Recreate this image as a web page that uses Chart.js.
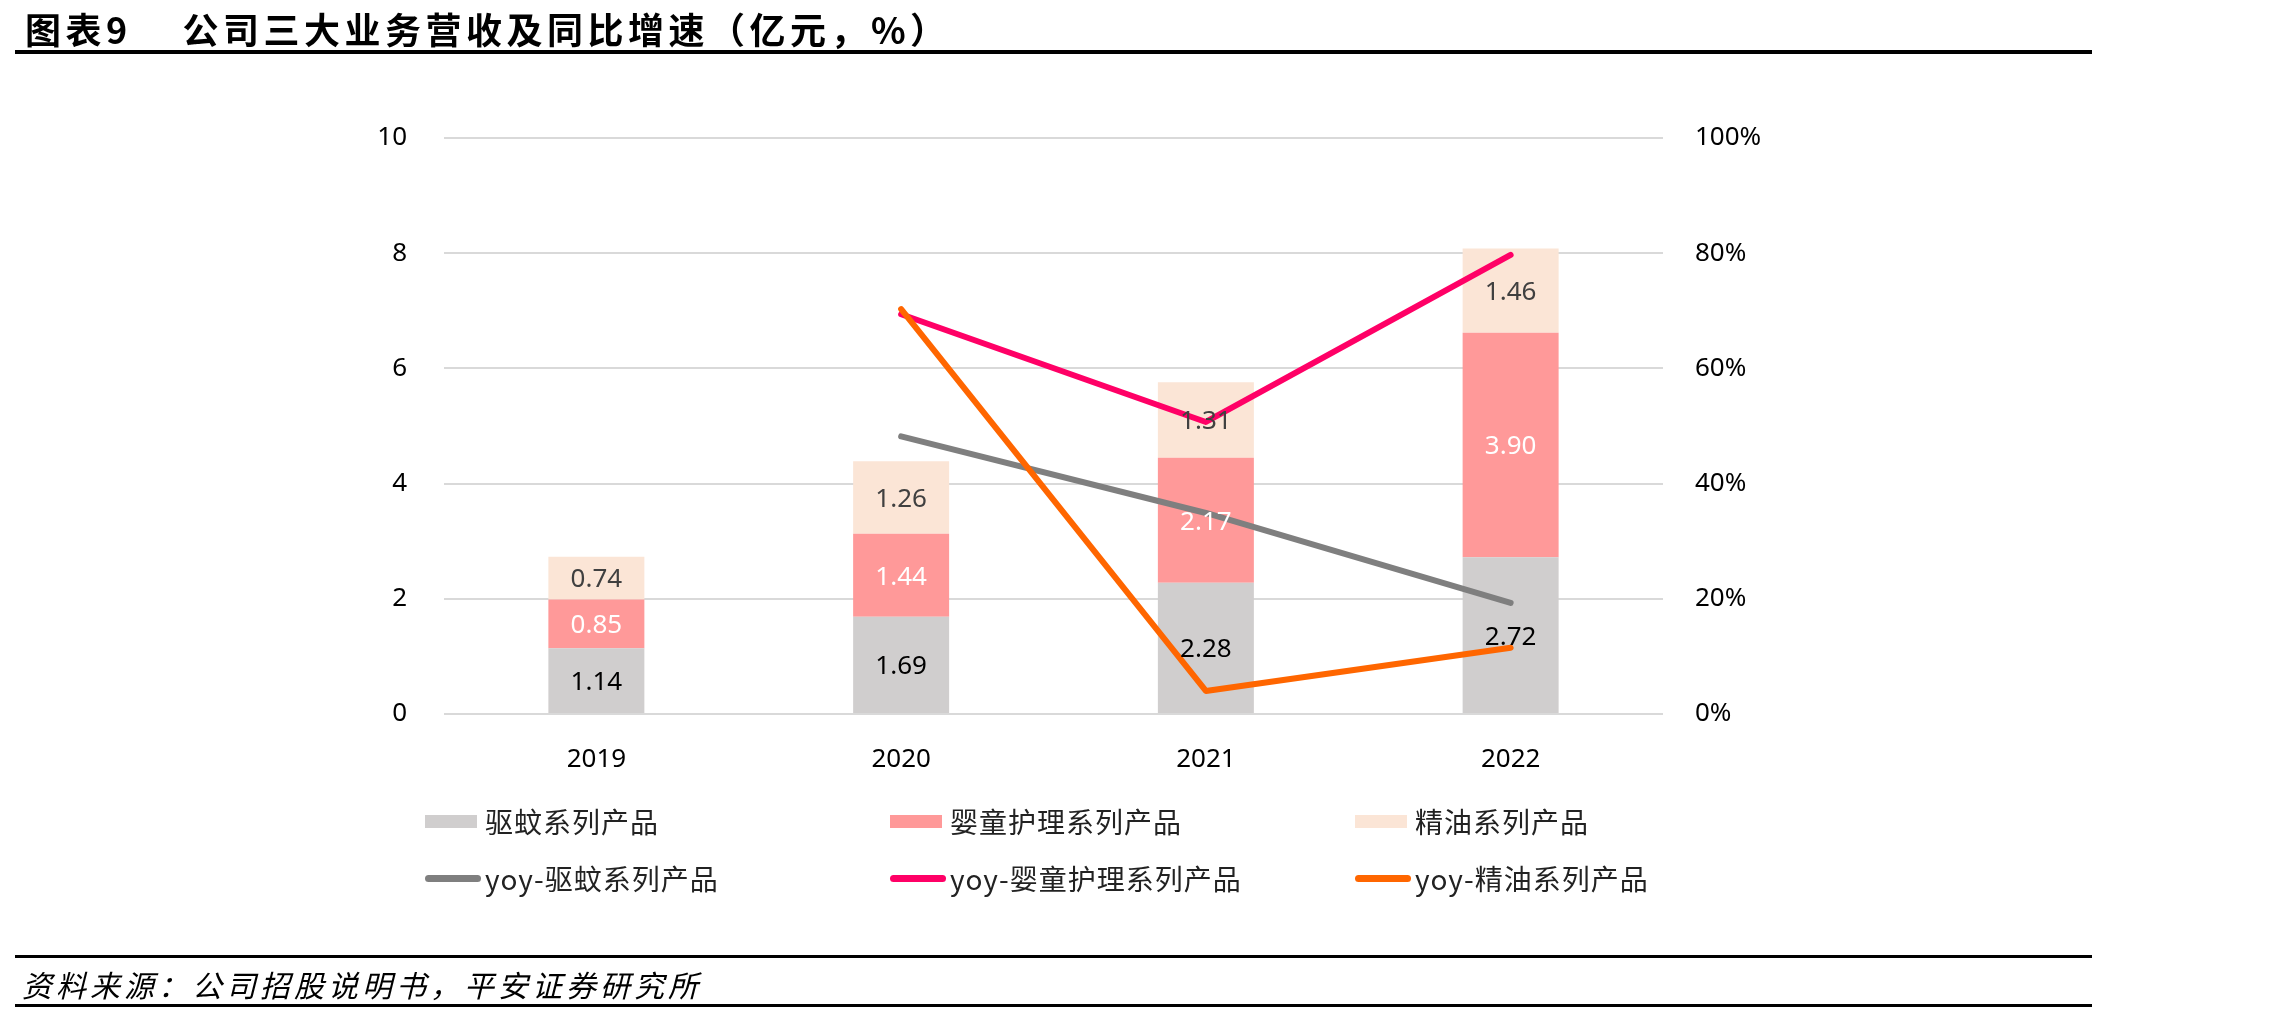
<html lang="zh">
<head>
  <meta charset="UTF-8" />
  <title>公司三大业务营收及同比增速</title>
  <script src="https://cdn.jsdelivr.net/npm/chart.js"></script>
  <style>
    body {
      margin: 0;
      width: 2281px;
      height: 1015px;
      background: #ffffff;
      position: relative;
      overflow: hidden;
      font-family: "Noto Sans CJK SC", "Noto Sans", sans-serif;
    }
    .title {
      position: absolute;
      left: 25px;
      top: 2px;
      font-size: 36px;
      font-weight: bold;
      letter-spacing: 4.5px;
      color: #000;
      white-space: pre;
      z-index: 2;
    }
    .rule {
      position: absolute;
      left: 15px;
      width: 2077px;
      background: #000;
      z-index: 2;
    }
    .source {
      position: absolute;
      left: 22px;
      top: 962px;
      font-size: 30px;
      font-style: italic;
      letter-spacing: 4px;
      color: #000;
      z-index: 2;
    }
    .wrap {
      position: absolute;
      left: 0;
      top: 0;
      width: 2281px;
      height: 1015px;
    }
    .legend-item {
      position: absolute;
      height: 40px;
      display: flex;
      align-items: center;
      font-size: 28px;
      letter-spacing: 1px;
      color: #222;
      white-space: nowrap;
      z-index: 2;
    }
    .legend-item .box { width: 52px; height: 13px; margin-right: 8px; }
    .legend-item .line { width: 56px; height: 7px; border-radius: 4px; margin-right: 4px; }
  </style>
</head>
<body>

<div class="title">图表9    公司三大业务营收及同比增速（亿元，%）</div>
<div class="rule" style="top:50px;height:4px;"></div>

<div class="wrap"><canvas id="mainChart"></canvas></div>
<div id="legend"></div>

<div class="rule" style="top:955px;height:3px;"></div>
<div class="source">资料来源：公司招股说明书，平安证券研究所</div>
<div class="rule" style="top:1004px;height:3px;"></div>

<script>
  const years = ['2019', '2020', '2021', '2022'];

  // 营收（亿元）
  const quwen = [1.14, 1.69, 2.28, 2.72];
  const yingtong = [0.85, 1.44, 2.17, 3.90];
  const jingyou = [0.74, 1.26, 1.31, 1.46];

  // 同比增速（%）
  const yoyQuwen = [null, 48.2, 34.9, 19.3];
  const yoyYingtong = [null, 69.4, 50.7, 79.7];
  const yoyJingyou = [null, 70.3, 4.0, 11.5];

  const leftTicks = [0, 2, 4, 6, 8, 10];
  const rightTicks = [0, 20, 40, 60, 80, 100];

  const tickFont = { family: '"Noto Sans", sans-serif', size: 26 };

  const barLabels = {
    id: 'barLabels',
    afterDatasetsDraw(chart) {
      const ctx = chart.ctx;
      ctx.save();
      ctx.font = '26px "Noto Sans", sans-serif';
      ctx.textAlign = 'center';
      ctx.textBaseline = 'middle';
      chart.data.datasets.forEach((ds, i) => {
        if (ds.type !== 'bar') return;
        const meta = chart.getDatasetMeta(i);
        meta.data.forEach((el, j) => {
          const v = ds.data[j];
          if (v == null) return;
          const { x, y, base } = el.getProps(['x', 'y', 'base'], true);
          ctx.fillStyle = ds.labelColor;
          ctx.fillText(v.toFixed(2), x, (y + base) / 2 + 2);
        });
      });
      ctx.restore();
    }
  };

  const chart = new Chart(document.getElementById('mainChart'), {
    data: {
      labels: years,
      datasets: [
        { type: 'bar', label: '驱蚊系列产品', data: quwen, backgroundColor: '#D0CECE', labelColor: '#000000', yAxisID: 'y', order: 4, stack: 's' },
        { type: 'bar', label: '婴童护理系列产品', data: yingtong, backgroundColor: '#FF9999', labelColor: '#FFFFFF', yAxisID: 'y', order: 5, stack: 's' },
        { type: 'bar', label: '精油系列产品', data: jingyou, backgroundColor: '#FBE5D6', labelColor: '#404040', yAxisID: 'y', order: 6, stack: 's' },
        { type: 'line', label: 'yoy-驱蚊系列产品', data: yoyQuwen, borderColor: '#7F7F7F', backgroundColor: '#7F7F7F', yAxisID: 'y1', order: 3 },
        { type: 'line', label: 'yoy-婴童护理系列产品', data: yoyYingtong, borderColor: '#FF0066', backgroundColor: '#FF0066', yAxisID: 'y1', order: 2 },
        { type: 'line', label: 'yoy-精油系列产品', data: yoyJingyou, borderColor: '#FF6600', backgroundColor: '#FF6600', yAxisID: 'y1', order: 1 }
      ]
    },
    options: {
      responsive: true,
      maintainAspectRatio: false,
      animation: false,
      layout: { padding: { top: 138, bottom: 221, left: 0, right: 0 } },
      datasets: {
        bar: { categoryPercentage: 0.315, barPercentage: 1.0 },
        line: { borderWidth: 6, pointRadius: 0, borderCapStyle: 'round', borderJoinStyle: 'round', tension: 0, spanGaps: false }
      },
      plugins: {
        legend: { display: false },
        tooltip: { enabled: false }
      },
      scales: {
        x: {
          stacked: true,
          grid: { display: false },
          border: { display: false },
          ticks: { color: '#000', font: tickFont, padding: 22 },
          afterFit(scale) { scale.height = 80; }
        },
        y: {
          stacked: true,
          position: 'left',
          min: 0,
          max: 10,
          afterBuildTicks(scale) { scale.ticks = leftTicks.map(v => ({ value: v })); },
          grid: { color: '#D9D9D9', lineWidth: 2, drawTicks: false },
          border: { display: false },
          ticks: { color: '#000', font: tickFont, padding: 37 },
          afterFit(scale) { scale.width = 444; }
        },
        y1: {
          position: 'right',
          min: 0,
          max: 100,
          afterBuildTicks(scale) { scale.ticks = rightTicks.map(v => ({ value: v })); },
          grid: { display: false, drawTicks: false },
          border: { display: false },
          ticks: { color: '#000', font: tickFont, padding: 32, callback: v => v + '%' },
          afterFit(scale) { scale.width = 618; }
        }
      }
    },
    plugins: [barLabels]
  });

  // legend laid out as a 3x2 grid like the original
  const legendCols = [425, 890, 1355];
  const legendRows = [801, 858];
  const legendEl = document.getElementById('legend');
  chart.data.datasets.forEach((ds, i) => {
    const item = document.createElement('div');
    item.className = 'legend-item';
    item.style.left = legendCols[i % 3] + 'px';
    item.style.top = legendRows[Math.floor(i / 3)] + 'px';
    const mark = document.createElement('span');
    mark.className = ds.type === 'bar' ? 'box' : 'line';
    mark.style.background = ds.type === 'bar' ? ds.backgroundColor : ds.borderColor;
    item.appendChild(mark);
    item.appendChild(document.createTextNode(ds.label));
    legendEl.appendChild(item);
  });
</script>

</body>
</html>
